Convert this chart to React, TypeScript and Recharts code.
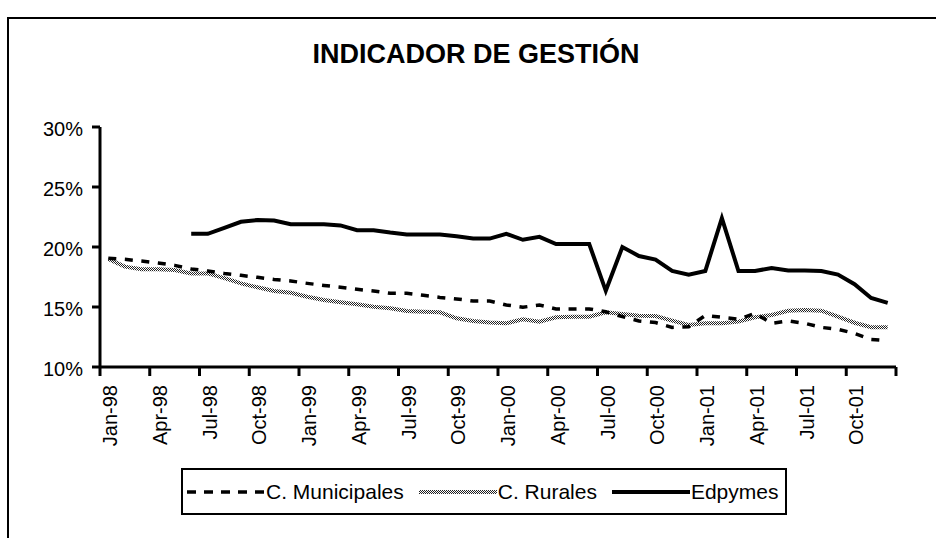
import React from 'react';
import { LineChart, Line, XAxis, YAxis, Legend } from 'recharts';

const months = [
  'Jan-98','Feb-98','Mar-98','Apr-98','May-98','Jun-98','Jul-98','Aug-98','Sep-98','Oct-98','Nov-98','Dec-98',
  'Jan-99','Feb-99','Mar-99','Apr-99','May-99','Jun-99','Jul-99','Aug-99','Sep-99','Oct-99','Nov-99','Dec-99',
  'Jan-00','Feb-00','Mar-00','Apr-00','May-00','Jun-00','Jul-00','Aug-00','Sep-00','Oct-00','Nov-00','Dec-00',
  'Jan-01','Feb-01','Mar-01','Apr-01','May-01','Jun-01','Jul-01','Aug-01','Sep-01','Oct-01','Nov-01','Dec-01',
];

const tickLabels = [
  'Jan-98','Apr-98','Jul-98','Oct-98','Jan-99','Apr-99','Jul-99','Oct-99',
  'Jan-00','Apr-00','Jul-00','Oct-00','Jan-01','Apr-01','Jul-01','Oct-01',
];

const yTicks = [10, 15, 20, 25, 30];

const municipales = [
  19.06, 18.97, 18.83, 18.67, 18.47, 18.17, 18.0, 17.8, 17.64, 17.47, 17.3, 17.17,
  16.97, 16.8, 16.64, 16.47, 16.33, 16.14, 16.14, 15.97, 15.8, 15.67, 15.5, 15.5,
  15.17, 14.98, 15.17, 14.84, 14.84, 14.84, 14.6, 14.2, 13.84, 13.7, 13.3, 13.36,
  14.3, 14.14, 13.98, 14.47, 13.64, 13.84, 13.64, 13.3, 13.14, 12.8, 12.3, 12.2,
];

const rurales = [
  19.0, 18.36, 18.14, 18.14, 18.08, 17.8, 17.8, 17.4, 16.97, 16.64, 16.33, 16.19,
  15.86, 15.58, 15.39, 15.22, 15.03, 14.89, 14.67, 14.61, 14.56, 14.06, 13.83, 13.7,
  13.64, 13.97, 13.78, 14.14, 14.19, 14.19, 14.56, 14.42, 14.28, 14.25, 13.86, 13.5,
  13.64, 13.64, 13.78, 14.14, 14.33, 14.69, 14.75, 14.69, 14.19, 13.69, 13.31, 13.31,
];

const edpymes = [
  null, null, null, null, null, 21.1, 21.1, 21.6, 22.1, 22.25, 22.2, 21.9,
  21.9, 21.9, 21.8, 21.4, 21.4, 21.2, 21.05, 21.05, 21.05, 20.9, 20.7, 20.7,
  21.1, 20.6, 20.85, 20.25, 20.25, 20.25, 16.35, 20.0, 19.25, 18.95, 18.0, 17.7,
  18.0, 22.4, 18.0, 18.0, 18.25, 18.05, 18.05, 18.0, 17.7, 16.9, 15.75, 15.35,
];

const seriesNames = ['C. Municipales', 'C. Rurales', 'Edpymes'];
const title = 'INDICADOR DE GESTIÓN';

const data = months.map((m, i) => ({
  month: m,
  pos: i + 0.5,
  municipales: municipales[i],
  rurales: rurales[i],
  edpymes: edpymes[i],
}));

const xTicks = Array.from({ length: tickLabels.length + 1 }, (_, k) => k * 3);

const FONT = '"Liberation Sans", Arial, sans-serif';

const YTick = (props: any) => {
  const { x, y, payload } = props;
  return (
    <text x={x} y={y + 2} textAnchor="end" dominantBaseline="central" fontFamily={FONT} fontSize={20} fill="#000">
      {payload.value}%
    </text>
  );
};

const XTick = (props: any) => {
  const { x, payload } = props;
  const label = tickLabels[Math.round(payload.value / 3)] ?? '';
  return (
    <text
      transform={`translate(${x + 17},385) rotate(-90)`}
      textAnchor="end"
      fontFamily={FONT}
      fontSize={20}
      fill="#000"
    >
      {label}
    </text>
  );
};

const legendStyles = [
  { stroke: '#000', width: 3.5, dash: '9 8' },
  { stroke: 'url(#checker)', width: 4, dash: undefined },
  { stroke: '#000', width: 4, dash: undefined },
];

const LegendBox = () => (
  <div
    style={{
      boxSizing: 'border-box',
      width: 606,
      height: 47,
      border: '2px solid #000',
      background: '#fff',
      display: 'flex',
      alignItems: 'center',
      paddingLeft: 4,
      fontFamily: FONT,
      fontSize: 21,
      color: '#000',
      whiteSpace: 'nowrap',
    }}
  >
    {seriesNames.map((name, i) => (
      <div key={name} style={{ display: 'flex', alignItems: 'center', marginRight: 15 }}>
        <svg width={78} height={10} style={{ display: 'block' }}>
          <line
            x1={0}
            y1={5}
            x2={78}
            y2={5}
            stroke={legendStyles[i].stroke}
            strokeWidth={legendStyles[i].width}
            strokeDasharray={legendStyles[i].dash}
          />
        </svg>
        <span style={{ marginLeft: 1 }}>{name}</span>
      </div>
    ))}
  </div>
);

export default function App() {
  return (
    <div style={{ position: 'absolute', left: 0, top: 0, width: 936, height: 538, overflow: 'hidden', background: '#fff' }}>
      <svg width={0} height={0} style={{ position: 'absolute' }}>
        <defs>
          <pattern id="checker" width={2} height={2} patternUnits="userSpaceOnUse">
            <rect width={2} height={2} fill="#fff" />
            <rect x={0} y={0} width={1} height={1} fill="#222" />
            <rect x={1} y={1} width={1} height={1} fill="#222" />
          </pattern>
        </defs>
      </svg>
      <div
        style={{
          position: 'absolute',
          left: 7,
          top: 17,
          width: 940,
          height: 540,
          borderLeft: '2px solid #000',
          borderTop: '2px solid #000',
        }}
      />
      <div
        style={{
          position: 'absolute',
          left: 476,
          top: 41,
          transform: 'translateX(-50%)',
          fontFamily: FONT,
          fontWeight: 'bold',
          fontSize: 27,
          lineHeight: '27px',
          whiteSpace: 'nowrap',
          color: '#000',
        }}
      >
        {title}
      </div>
      <div style={{ position: 'absolute', left: 0, top: 0 }}>
        <LineChart width={936} height={538} data={data} margin={{ top: 127, right: 40, bottom: 71, left: 0 }}>
          <XAxis
            type="number"
            dataKey="pos"
            domain={[0, 48]}
            ticks={xTicks}
            interval={0}
            allowDataOverflow
            height={100}
            tickSize={9}
            stroke="#000"
            axisLine={{ stroke: '#000', strokeWidth: 3 }}
            tickLine={{ stroke: '#000', strokeWidth: 3 }}
            tick={<XTick />}
          />
          <YAxis
            type="number"
            domain={[10, 30]}
            ticks={yTicks}
            interval={0}
            allowDataOverflow
            width={100}
            tickSize={8}
            tickMargin={9}
            stroke="#000"
            axisLine={{ stroke: '#000', strokeWidth: 3 }}
            tickLine={{ stroke: '#000', strokeWidth: 3 }}
            tick={<YTick />}
          />
          <Line
            type="linear"
            dataKey="rurales"
            name={seriesNames[1]}
            stroke="url(#checker)"
            strokeWidth={4}
            dot={false}
            activeDot={false}
            isAnimationActive={false}
          />
          <Line
            type="linear"
            dataKey="municipales"
            name={seriesNames[0]}
            stroke="#000"
            strokeWidth={3.5}
            strokeDasharray="8 8.58"
            dot={false}
            activeDot={false}
            isAnimationActive={false}
          />
          <Line
            type="linear"
            dataKey="edpymes"
            name={seriesNames[2]}
            stroke="#000"
            strokeWidth={4}
            dot={false}
            activeDot={false}
            isAnimationActive={false}
          />
          <Legend
            verticalAlign="middle"
            layout="horizontal"
            wrapperStyle={{ top: 468, left: 181, width: 606, height: 47 }}
            content={<LegendBox />}
          />
        </LineChart>
      </div>
    </div>
  );
}
